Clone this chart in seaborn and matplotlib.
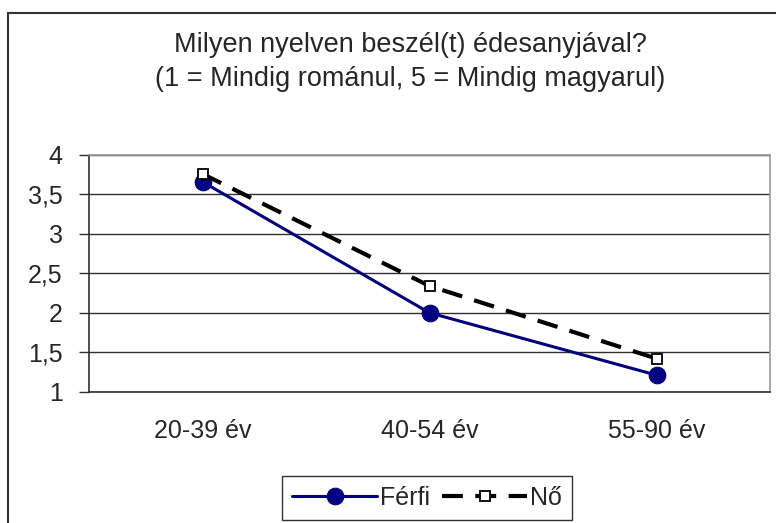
import matplotlib
matplotlib.use("Agg")
import numpy as np
import pandas as pd
import matplotlib.pyplot as plt
import seaborn as sns
from matplotlib.patches import Rectangle
from matplotlib.ticker import FixedLocator

# adatok
korcsoport = ["20-39 év", "40-54 év", "55-90 év"]
ferfi = [3.66, 2.00, 1.21]
no = [3.76, 2.34, 1.42]
yticks = [1, 1.5, 2, 2.5, 3, 3.5, 4]
ytick_labels = ["1", "1,5", "2", "2,5", "3", "3,5", "4"]

sns.set_style("white")
plt.rcParams["font.family"] = ["Liberation Sans", "DejaVu Sans"]

df = pd.DataFrame({
    "kor": korcsoport * 2,
    "ertek": ferfi + no,
    "nem": ["Férfi"] * 3 + ["Nő"] * 3,
})

fig = plt.figure(figsize=(7.76, 5.23), dpi=100)
ax = fig.add_axes([89 / 776, 1 - 391.7 / 523, (770 - 89) / 776, (391.7 - 155) / 523])

sns.lineplot(data=df, x="kor", y="ertek", hue="nem", style="nem",
             palette={"Férfi": "#000080", "Nő": "black"},
             markers={"Férfi": "o", "Nő": "s"},
             dashes={"Férfi": "", "Nő": (5, 3)},
             sort=False, ax=ax, legend=False, zorder=3)

lines = ax.get_lines()
# Férfi
lines[0].set_linewidth(2.2)
lines[0].set_markersize(12)
lines[0].set_markerfacecolor("#000080")
lines[0].set_markeredgecolor("#000080")
# Nő
lines[1].set_linewidth(3)
lines[1].set_markersize(7)
lines[1].set_markerfacecolor("white")
lines[1].set_markeredgecolor("black")
lines[1].set_markeredgewidth(1.3)

ax.set_xlim(-0.5, len(korcsoport) - 0.5)
ax.set_ylim(1, 4)
ax.set_yticks(yticks)
ax.set_yticklabels(ytick_labels)
ax.set_xlabel("")
ax.set_ylabel("")
ax.yaxis.grid(True, color="#303030", linewidth=1)
ax.set_axisbelow(True)

ax.xaxis.set_minor_locator(FixedLocator(np.arange(-0.5, len(korcsoport), 1)))
ax.tick_params(axis="x", which="major", length=0, pad=20, labelsize=18)
ax.tick_params(axis="x", which="minor", length=7, width=1, color="#303030", direction="out")
ax.tick_params(axis="y", length=7, width=1, color="#303030", direction="out",
               pad=12, labelsize=18, left=True)

for side in ["left", "bottom"]:
    ax.spines[side].set_color("#303030")
    ax.spines[side].set_linewidth(1.2)
for side in ["top", "right"]:
    ax.spines[side].set_color("#999999")
    ax.spines[side].set_linewidth(1.2)

fig.text(410 / 776, 1 - 62 / 523,
         "Milyen nyelven beszél(t) édesanyjával?\n(1 = Mindig románul, 5 = Mindig magyarul)",
         ha="center", va="center", fontsize=19.5, linespacing=1.4)

leg = fig.legend(handles=lines[:2], labels=["Férfi", "Nő"],
                 loc="center", bbox_to_anchor=(427 / 776, 1 - 498 / 523),
                 ncol=2, fontsize=18, frameon=True, fancybox=False,
                 handlelength=3.4, handletextpad=0.1, columnspacing=0.5,
                 borderpad=0.4, borderaxespad=0)
leg.get_frame().set_edgecolor("black")
leg.get_frame().set_linewidth(1)

fig.patches.append(Rectangle((8 / 776, -0.1), 1.0, 1 - 13 / 523 + 0.1,
                             transform=fig.transFigure, fill=False,
                             edgecolor="#333333", linewidth=1.5))

fig.savefig("out.png", dpi=100)
